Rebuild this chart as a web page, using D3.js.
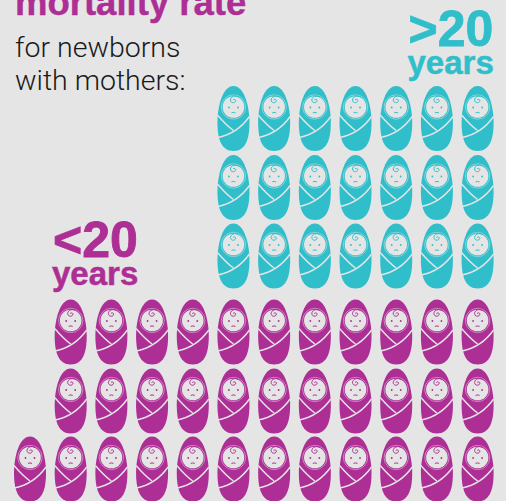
<!DOCTYPE html>
<html><head><meta charset="utf-8">
<script src="https://cdn.jsdelivr.net/npm/d3@7"></script>
<style>html,body{margin:0;padding:0;background:#e5e5e5;overflow:hidden}svg{display:block}</style>
</head><body><svg id="c" width="506" height="501"></svg>
<script>
const columns = d3.range(12);
const rowsTop = ["t1","t2","t3","m1","m2","m3"];
const rowSeries = ["older","older","older","younger","younger","younger"];
const rowCounts = [7,7,7,11,11,12];
const seriesColors = {older:"#30bfca", younger:"#ad2e94"};
const bg = "#e5e5e5";
const title = "mortality rate";
const subtitle = ["for newborns","with mothers:"];

const svg = d3.select("#c");
svg.append("rect").attr("width",506).attr("height",501).attr("fill",bg);

const x = d3.scalePoint().domain(columns).range([30,477.6]);
const y = d3.scaleOrdinal().domain(rowsTop).range([118.5,187.5,256,332,401,469]);

const BODY = "M0,-32.5C10.5,-32.5 16,-13 16,4C16,20 12.5,32.5 0,32.5C-12.5,32.5 -16,20 -16,4C-16,-13 -10.5,-32.5 0,-32.5Z";

function baby(g,color){
  g.append("path").attr("d",BODY).attr("fill",color);
  g.append("circle").attr("cy",-11.5).attr("r",12.2).attr("fill","none").attr("stroke",bg).attr("stroke-width",0.6).attr("opacity",0.8);
  g.append("circle").attr("cy",-11.5).attr("r",10.8).attr("fill",bg);
  g.append("path").attr("d","M-0.5,-18.5C1,-20 3,-18.5 2,-17C1,-15 -3,-15.5 -3,-18.5C-3,-22 2,-23.5 5,-21.5")
    .attr("fill","none").attr("stroke",color).attr("stroke-width",1);
  g.append("circle").attr("cx",-4.5).attr("cy",-11).attr("r",0.9).attr("fill",color);
  g.append("circle").attr("cx",4.5).attr("cy",-11).attr("r",0.9).attr("fill",color);
  g.append("path").attr("d","M-2,-5.6Q0,-6.6 2,-5.6").attr("fill","none").attr("stroke",color).attr("stroke-width",1);
  g.append("path").attr("d","M-16,-3.5Q-7,7 0,12").attr("fill","none").attr("stroke",bg).attr("stroke-width",1.4);
  g.append("path").attr("d","M16,-2Q4,15 -15.5,19").attr("fill","none").attr("stroke",bg).attr("stroke-width",1.4);
}

rowsTop.forEach((r,i)=>{
  const shown = columns.slice(12-rowCounts[i]);
  svg.append("g").selectAll("g").data(shown).join("g")
    .attr("transform",c=>`translate(${x(c)},${y(r)})`)
    .each(function(){ baby(d3.select(this),seriesColors[rowSeries[i]]); });
});

const txt=(s,xx,yy,size,weight,fill,family,stroke)=>svg.append("text").text(s).attr("x",xx).attr("y",yy)
  .attr("font-size",size).attr("font-weight",weight).attr("fill",fill).attr("font-family",family)
  .attr("stroke",stroke?fill:"none").attr("stroke-width",stroke||0);
const F="'Liberation Sans',sans-serif";
txt(title,15,15,36.5,700,seriesColors.younger,F,0.4);
txt(subtitle[0],15,57,28.5,300,"#1a1a1a","Roboto");
txt(subtitle[1],15,90,28.5,300,"#1a1a1a","Roboto");
txt(">20",408.5,46,50,700,seriesColors.older,F,0.8);
txt("years",407.5,74,33,700,seriesColors.older,F,0.5);
txt("<20",53,257,50,700,seriesColors.younger,F,0.8);
txt("years",52,285,33,700,seriesColors.younger,F,0.5);
</script></body></html>
